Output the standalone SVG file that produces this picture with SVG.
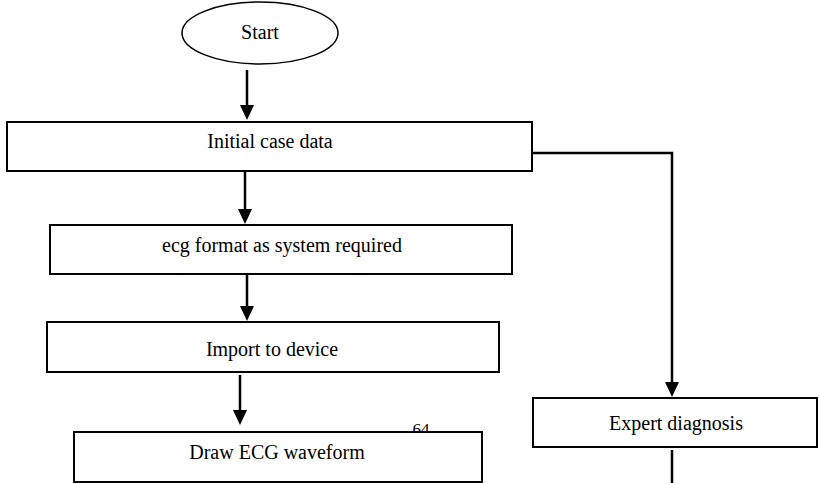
<svg xmlns="http://www.w3.org/2000/svg" width="819" height="483" viewBox="0 0 819 483">
<defs>
<style>
.box{fill:#fff;stroke:#000;stroke-width:2}
.t{font-family:"Liberation Serif","Times New Roman",serif;font-size:20px;fill:#000;text-anchor:middle}
.c{fill:none;stroke:#000;stroke-width:2.5}
.h{fill:#000}
</style>
</defs>
<rect width="819" height="483" fill="#fff"/>
<g id="connectors">
<line class="c" x1="247" y1="70" x2="247" y2="106"/>
<path class="h" d="M240,105 L254,105 L247,120 Z"/>
<line class="c" x1="245" y1="171" x2="245" y2="211"/>
<path class="h" d="M238,209 L252,209 L245,224 Z"/>
<line class="c" x1="247" y1="274" x2="247" y2="308"/>
<path class="h" d="M240,306 L254,306 L247,321 Z"/>
<line class="c" x1="240" y1="375" x2="240" y2="412"/>
<path class="h" d="M233,410 L247,410 L240,425 Z"/>
<polyline class="c" points="532,153 672,153 672,384"/>
<path class="h" d="M665,382 L679,382 L672,397 Z"/>
<line class="c" x1="672" y1="450" x2="672" y2="483"/>
</g>
<g id="start">
<ellipse cx="260" cy="33" rx="78" ry="31" fill="#fff" stroke="#000" stroke-width="1.5"/>
<text class="t" x="260" y="39">Start</text>
</g>
<g id="initial">
<rect class="box" x="7" y="122" width="525" height="49"/>
<text class="t" x="270" y="148">Initial case data</text>
</g>
<g id="ecgformat">
<rect class="box" x="50" y="225" width="462" height="49"/>
<text class="t" x="282" y="252">ecg format as system required</text>
</g>
<g id="import">
<rect class="box" x="47" y="322" width="452" height="50"/>
<text class="t" x="272" y="356">Import to device</text>
</g>
<text class="t" x="421" y="435" style="font-size:17px">64</text>
<g id="draw">
<rect class="box" x="74" y="432" width="408" height="50"/>
<text class="t" x="277" y="459">Draw ECG waveform</text>
</g>
<g id="expert">
<rect class="box" x="533" y="398" width="284" height="49"/>
<text class="t" x="676" y="430">Expert diagnosis</text>
</g>
</svg>
